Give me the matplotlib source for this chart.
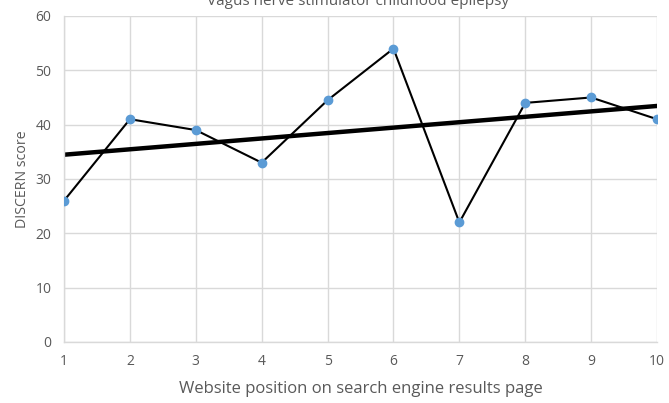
import numpy as np
import matplotlib
matplotlib.use('Agg')
import matplotlib.pyplot as plt

# website rank on the results page and its DISCERN score
positions = [1, 2, 3, 4, 5, 6, 7, 8, 9, 10]
discern_scores = [26, 41, 39, 33, 44.5, 54, 22, 44, 45, 41]
y_ticks = [0, 10, 20, 30, 40, 50, 60]

plt.rcParams['font.family'] = ['Open Sans', 'DejaVu Sans']

fig = plt.figure(figsize=(6.69, 4.03), dpi=100)
ax = fig.add_axes([0.0957, 0.1514, 0.8864, 0.809])

grid_col = '#d9d9d9'
text_col = '#595959'

# linear trendline, as in the spreadsheet chart
slope, intercept = np.polyfit(positions, discern_scores, 1)
trend = [slope * p + intercept for p in positions]

ax.plot(positions, trend, color='black', lw=3.2, zorder=2)
ax.plot(positions, discern_scores, color='black', lw=1.5, zorder=3,
        marker='o', markersize=6, markerfacecolor='#5b9bd5',
        markeredgecolor='#5b9bd5')

ax.set_xlim(1, 10)
ax.set_ylim(0, 60)
ax.set_xticks(positions)
ax.set_yticks(y_ticks)
ax.grid(True, color=grid_col, lw=1)
ax.set_axisbelow(True)

for s in ['top', 'right']:
    ax.spines[s].set_visible(False)
for s in ['left', 'bottom']:
    ax.spines[s].set_color(grid_col)
    ax.spines[s].set_linewidth(1)

ax.tick_params(length=0, labelsize=10, colors=text_col)
ax.tick_params(axis='x', pad=9)
ax.tick_params(axis='y', pad=9)

ax.set_xlabel('Website position on search engine results page',
              fontsize=12, color=text_col, labelpad=8)
ax.set_ylabel('DISCERN score', fontsize=10.2, color=text_col, labelpad=4)

# title sits mostly outside the cropped image
fig.text(0.535, 1 - 5 / 403, 'Vagus nerve stimulator childhood epilepsy',
         ha='center', va='baseline', fontsize=11, color=text_col)

fig.savefig('out.png', dpi=100)
